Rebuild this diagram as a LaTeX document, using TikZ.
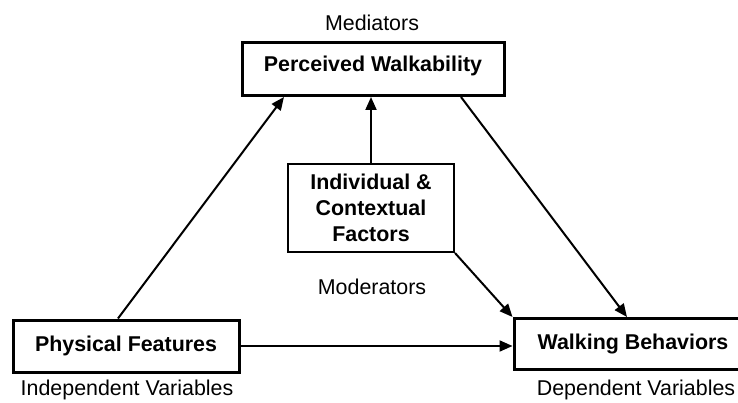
\documentclass[tikz,border=0pt]{standalone}
\usepackage{fontspec}
\setmainfont{Liberation Sans}
\usetikzlibrary{arrows.meta,calc}
\begin{document}
\begin{tikzpicture}[x=1pt,y=1pt,
  every node/.style={font=\fontsize{21.4}{25.7}\selectfont, inner sep=0pt},
  thickbox/.style={draw, line width=3pt, font=\fontsize{21.4}{25.7}\selectfont\bfseries},
  thinbox/.style={draw, line width=2pt, align=center, font=\fontsize{21.4}{25.7}\selectfont\bfseries},
  arr/.style={line width=2pt, -{Triangle[length=13pt,width=11pt]}},
  lbl/.style={}]
\clip (0,0) rectangle (738,-403);
\fill[white] (0,0) rectangle (738,-403);
\node[thickbox, minimum width=262, minimum height=53] (pw) at (373,-69) {};
\node at (373,-66) (pwt) {\bfseries Perceived Walkability};
\node[thinbox, minimum width=166, minimum height=88] (ind) at (371,-208) {Individual \&\\Contextual\\Factors};
\node[thickbox, minimum width=226, minimum height=52] (pf) at (126,-346) {Physical Features};
\node[thickbox, minimum width=238, minimum height=51] (wb) at (633,-344) {Walking Behaviors};
\node[lbl] (med) at (372,-23) {Mediators};
\node[lbl] (mod) at (372,-287) {Moderators};
\node[lbl] (iv) at (127,-390) {Independent Variables};
\node[lbl] (dv) at (636,-390) {Dependent Variables};
\draw[arr] ($(pf.north west)!0.465!(pf.north east)$) -- ($(pw.south west)!0.164!(pw.south east)$);
\draw[arr] (ind.north) -- (ind.north |- pw.south);
\draw[arr] ($(pw.south west)!0.832!(pw.south east)$) -- ($(wb.north west)!0.475!(wb.north east)$);
\draw[arr] (ind.south east) -- (wb.north west);
\draw[arr] (pf.east) -- (pf.east -| wb.west);
\end{tikzpicture}
\end{document}
